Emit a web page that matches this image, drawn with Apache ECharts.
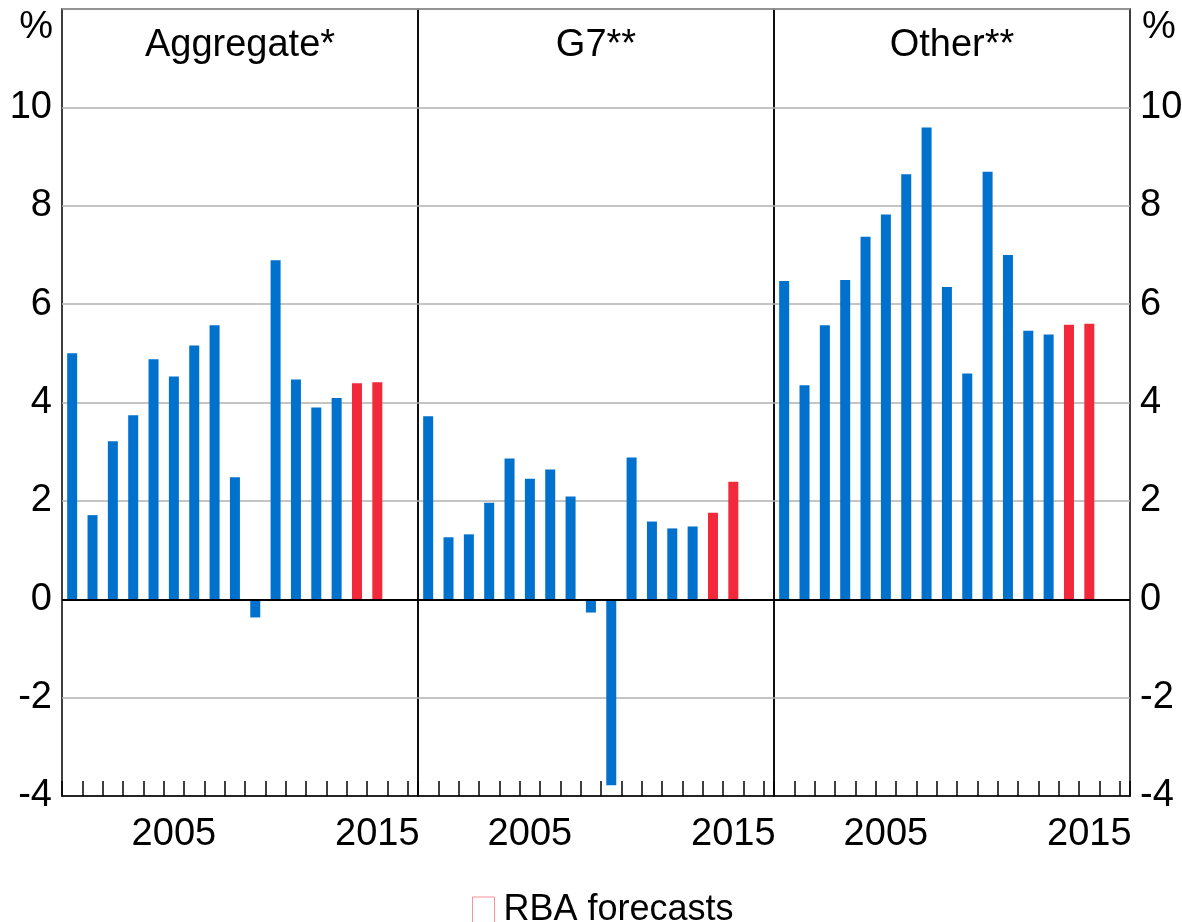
<!DOCTYPE html>
<html>
<head>
<meta charset="utf-8">
<script src="https://cdn.jsdelivr.net/npm/echarts@6/dist/echarts.min.js"></script>
<style>
  html, body { margin: 0; padding: 0; background: #fff; }
  #chart { width: 1182px; height: 922px; }
</style>
</head>
<body>
<div id="chart"></div>
<script>
// 数据
const years = [2000, 2001, 2002, 2003, 2004, 2005, 2006, 2007, 2008, 2009, 2010, 2011, 2012, 2013, 2014, 2015];
const aggregate = [5.0, 1.71, 3.21, 3.74, 4.88, 4.53, 5.16, 5.57, 2.48, -0.37, 6.89, 4.47, 3.9, 4.09, 4.39, 4.41];
const g7 = [3.72, 1.26, 1.32, 1.96, 2.86, 2.45, 2.64, 2.09, -0.27, -3.78, 2.88, 1.58, 1.44, 1.48, 1.76, 2.39];
const other = [6.47, 4.35, 5.57, 6.49, 7.37, 7.82, 8.64, 9.59, 6.35, 4.59, 8.69, 7.0, 5.46, 5.38, 5.58, 5.6];
const panelTitles = ['Aggregate*', 'G7**', 'Other**'];
const yearLabels = [2005, 2015];
const forecastFrom = 2014;

const FONT = '"Liberation Sans", Arial, sans-serif';
const BLUE = '#0072CE';
const RED = '#F2293A';
const panels = [aggregate, g7, other];
const panelLeft = [62, 418, 774];
const panelWidth = 356;

const chart = echarts.init(document.getElementById('chart'));

const grid = [], xAxis = [], yAxis = [], series = [], graphic = [];

panels.forEach((vals, i) => {
  grid.push({
    left: panelLeft[i], width: panelWidth, top: 9, height: 787,
    outerBoundsMode: 'none', containLabel: false,
    show: true, borderColor: '#000', borderWidth: 1.5
  });
  // 刻度轴
  xAxis.push({
    type: 'value', gridIndex: i, position: 'bottom', min: 1999.5, max: 2017, interval: 1,
    axisLine: { onZero: false, lineStyle: { color: '#000', width: 1.5 } },
    axisTick: { inside: true, length: 15, lineStyle: { color: '#000', width: 1.5 } },
    axisLabel: { show: false },
    splitLine: { show: false }
  });
  // 年份标签轴
  xAxis.push({
    type: 'value', gridIndex: i, position: 'bottom', min: 1999.5, max: 2017, interval: 0.5,
    axisLine: { show: false, onZero: false },
    axisTick: { show: false },
    splitLine: { show: false },
    axisLabel: {
      color: '#000', fontSize: 38, fontFamily: FONT, margin: 20,
      formatter: v => yearLabels.some(y => Math.abs(y - v) < 1e-6) ? String(Math.round(v)) : ''
    }
  });
  yAxis.push({
    type: 'value', gridIndex: i, min: -4, max: 12, interval: 2,
    position: i === 2 ? 'right' : 'left',
    axisLine: { show: false },
    axisTick: { show: false },
    axisLabel: {
      show: i !== 1, color: '#000', fontSize: 38, fontFamily: FONT, margin: 10,
      formatter: v => (v === 12 ? '' : String(v))
    },
    splitLine: { lineStyle: { color: '#b0b0b0', width: 1.5 } }
  });
  const actual = [], forecast = [];
  years.forEach((y, k) => {
    (y >= forecastFrom ? forecast : actual).push([y, vals[k]]);
  });
  series.push({
    type: 'bar', name: 'Actual', xAxisIndex: i * 2, yAxisIndex: i, stack: 'p' + i,
    barWidth: 10, data: actual, itemStyle: { color: BLUE }, silent: true,
    markLine: {
      symbol: 'none', silent: true, label: { show: false },
      lineStyle: { color: '#000', width: 2, type: 'solid' },
      data: [{ yAxis: 0 }]
    }
  });
  series.push({
    type: 'bar', name: 'RBA forecasts', xAxisIndex: i * 2, yAxisIndex: i, stack: 'p' + i,
    barWidth: 10, data: forecast, itemStyle: { color: RED }, silent: true
  });
  graphic.push({
    type: 'text', x: panelLeft[i] + panelWidth / 2, y: 46,
    style: { text: panelTitles[i], font: '38px ' + FONT, fill: '#000', textAlign: 'center', textVerticalAlign: 'middle' }
  });
});

graphic.push({
  type: 'text', x: 53, y: 28,
  style: { text: '%', font: '38px ' + FONT, fill: '#000', textAlign: 'right', textVerticalAlign: 'middle' }
});
graphic.push({
  type: 'text', x: 1142, y: 28,
  style: { text: '%', font: '38px ' + FONT, fill: '#000', textAlign: 'left', textVerticalAlign: 'middle' }
});

chart.setOption({
  animation: false,
  backgroundColor: '#fff',
  grid, xAxis, yAxis, series, graphic,
  legend: {
    left: 467, top: 887,
    itemWidth: 22, itemHeight: 26, itemGap: 10,
    textStyle: { color: '#000', fontSize: 36, fontFamily: FONT, padding: [0, 0, 0, 4] },
    data: [{
      name: 'RBA forecasts', icon: 'rect',
      itemStyle: { color: 'transparent', borderColor: RED, borderWidth: 1, opacity: 0.5 }
    }]
  }
});
</script>
</body>
</html>
